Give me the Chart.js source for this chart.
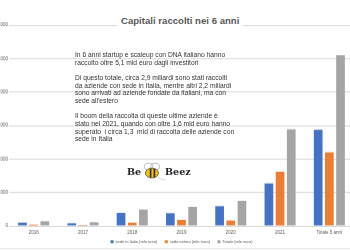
<!DOCTYPE html>
<html lang="it">
<head>
  <meta charset="UTF-8">
  <title>Capitali raccolti nei 6 anni</title>
  <script src="https://cdn.jsdelivr.net/npm/chart.js"></script>
  <style>
    body {
      margin: 0;
      width: 350px;
      height: 250px;
      overflow: hidden;
      background: #fff;
      position: relative;
      font-family: 'Liberation Sans', Arial, sans-serif;
    }
    .chart-box {
      position: absolute;
      left: -30px;
      top: 0;
      width: 390px;
      height: 252.7px;
    }
    .title {
      position: absolute;
      top: 15px;
      left: 118px;
      padding: 0 3px;
      background: #fff;
      color: #595959;
      font-size: 9.6px;
      font-weight: bold;
      line-height: 12px;
      white-space: nowrap;
    }
    .note {
      position: absolute;
      left: 75px;
      top: 51px;
      color: #333;
      font-size: 6.7px;
      line-height: 7.66px;
      white-space: nowrap;
    }
    .logo {
      position: absolute;
      left: 127px;
      top: 162px;
      font-family: 'DejaVu Serif', 'Liberation Serif', serif;
      font-weight: bold;
      font-size: 9.5px;
      color: #222;
      white-space: nowrap;
    }
    .logo svg { vertical-align: middle; }
    .bottom-line {
      position: absolute;
      left: 0;
      right: 0;
      top: 248px;
      height: 1px;
      background: #e6e6e6;
    }
  </style>
</head>
<body>
  <div class="chart-box"><canvas id="chart"></canvas></div>
  <div class="title" id="title">Capitali raccolti nei 6 anni</div>
  <div class="note" id="note">
    In 6 anni startup e scaleup con DNA italiano hanno<br>
    raccolto oltre 5,1 mld euro dagli investitori<br>
    <br>
    Di questo totale, circa 2,9 miliardi sono stati raccolti<br>
    da aziende con sede in Italia, mentre altri 2,2 miliardi<br>
    sono arrivati ad aziende fondate da italiani, ma con<br>
    sede all'estero<br>
    <br>
    Il boom della raccolta di queste ultime aziende è<br>
    stato nel 2021, quando con oltre 1,6 mld euro hanno<br>
    superato &nbsp;i circa 1,3 &nbsp;mld di raccolta delle aziende con<br>
    sede in Italia
  </div>
  <div class="logo">Be<svg width="24" height="20" viewBox="0 0 22 18">
      <ellipse cx="7" cy="4" rx="4" ry="3" fill="none" stroke="#999" stroke-width="0.6"/>
      <ellipse cx="13" cy="4" rx="4" ry="3" fill="none" stroke="#999" stroke-width="0.6"/>
      <ellipse cx="10" cy="10" rx="6" ry="4.5" fill="#f4c20d" stroke="#333" stroke-width="0.6"/>
      <rect x="8" y="6" width="1.6" height="8" fill="#333"/>
      <rect x="11.5" y="6" width="1.6" height="8" fill="#333"/>
      <path d="M15 13 Q19 17 22 16" fill="none" stroke="#bbb" stroke-width="0.5"/>
    </svg>Beez</div>
  <div class="bottom-line"></div>

<script>
  const categories = ['2016', '2017', '2018', '2019', '2020', '2021', 'Totale 5 anni'];
  const sedeItalia = [100, 80, 390, 380, 590, 1270, 2870];
  const sedeEstera = [40, 30, 100, 180, 160, 1620, 2200];
  const totale = [140, 110, 490, 570, 750, 2890, 5100];
  const yTickLabels = ['0', '1.000', '2.000', '3.000', '4.000', '5.000', '6.000'];

  const seriesNames = ['sede in Italia (mln euro)', 'sede estera (mln euro)', 'Totale (mln euro)'];
  const colors = ['#4472C4', '#ED7D31', '#A5A5A5'];

  const ctx = document.getElementById('chart').getContext('2d');
  new Chart(ctx, {
    type: 'bar',
    data: {
      labels: categories,
      datasets: [sedeItalia, sedeEstera, totale].map((d, i) => ({
        label: seriesNames[i],
        data: d,
        backgroundColor: colors[i],
        categoryPercentage: 0.68,
        barPercentage: 0.78
      }))
    },
    options: {
      responsive: true,
      maintainAspectRatio: false,
      animation: false,
      layout: { padding: { top: 25, right: 6, bottom: 0, left: 0 } },
      scales: {
        x: {
          afterFit: (scale) => { scale.height = 10.7; },
          grid: { display: false, drawTicks: false },
          border: { display: false },
          ticks: { color: '#595959', font: { size: 4.5 }, padding: 4, maxRotation: 0 }
        },
        y: {
          min: 0,
          max: 6000,
          afterFit: (scale) => { scale.width = 39; },
          grid: { color: '#D9D9D9', drawTicks: false },
          border: { display: false },
          ticks: {
            stepSize: 1000,
            color: '#595959',
            font: { size: 4.5 },
            padding: 1,
            callback: (v, i) => yTickLabels[i]
          }
        }
      },
      plugins: {
        tooltip: { enabled: false },
        legend: {
          position: 'bottom',
          fullSize: false,
          labels: {
            boxWidth: 3,
            boxHeight: 3,
            padding: 3,
            color: '#595959',
            font: { size: 4 },
            // extra gap between legend entries, as in the original
            generateLabels: (chart) => Chart.defaults.plugins.legend.labels.generateLabels(chart)
              .map((l, i) => ({ ...l, text: i < 2 ? l.text + '\u00a0\u00a0\u00a0\u00a0' : l.text }))
          }
        }
      }
    }
  });
</script>
</body>
</html>
